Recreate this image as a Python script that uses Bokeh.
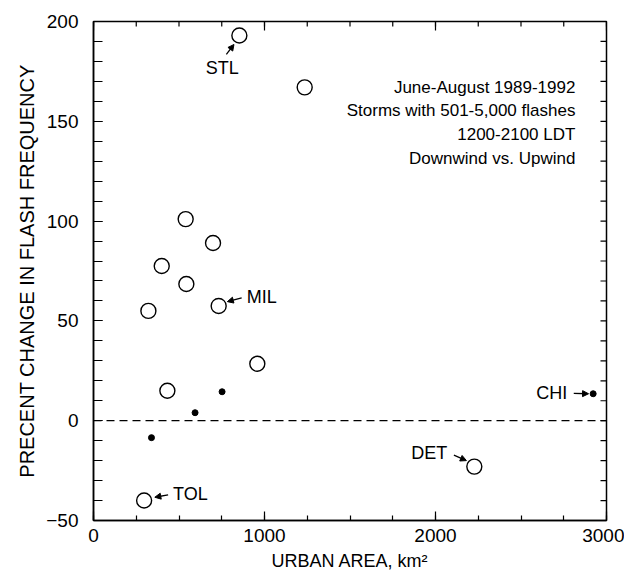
from bokeh.plotting import figure
from bokeh.models import LinearAxis, FixedTicker, Span, Range1d, Arrow, NormalHead, ColumnDataSource
from bokeh.embed import file_html
from bokeh.resources import INLINE
from bokeh.core.properties import value

# ---- data ----
open_x = [853, 1235, 539, 699, 399, 543, 321, 732, 958, 432, 296, 2227]
open_y = [193, 167, 101, 89, 77.5, 68.5, 55, 57.5, 28.5, 15, -40, -23]
filled_x = [752, 594, 339, 2922]
filled_y = [14.5, 4, -8.5, 13.5]

city_names = ["STL", "MIL", "TOL", "CHI", "DET"]
city_x = [853, 732, 296, 2922, 2227]
city_y = [193, 57.5, -40, 13.5, -23]

x_major = [0, 1000, 2000, 3000]
x_minor = list(range(0, 3001, 250))
y_major = [-50, 0, 50, 100, 150, 200]
y_minor = list(range(-50, 201, 10))

info_lines = ["June-August 1989-1992", "Storms with 501-5,000 flashes",
              "1200-2100 LDT", "Downwind vs. Upwind"]

# ---- layout ----
FW, FH = 513, 499
XMIN, XMAX, YMIN, YMAX = 0, 3000, -50, 200
sx = FW / (XMAX - XMIN)
sy = FH / (YMAX - YMIN)
FONT = "Liberation Sans"

p = figure(frame_width=FW, frame_height=FH, output_backend="svg", toolbar_location=None,
           x_range=Range1d(XMIN, XMAX), y_range=Range1d(YMIN, YMAX),
           x_axis_location=None, y_axis_location=None,
           min_border_left=93, min_border_right=18, min_border_top=21, min_border_bottom=55)
p.xgrid.visible = False
p.ygrid.visible = False
p.outline_line_color = "black"
p.outline_line_width = 1.5
p.background_fill_color = "white"
p.border_fill_color = "white"

xt = FixedTicker(ticks=x_major, minor_ticks=x_minor)
yt = FixedTicker(ticks=y_major, minor_ticks=y_minor)

def style(ax):
    ax.axis_line_width = 1.5
    ax.axis_line_color = "black"
    ax.major_tick_line_color = "black"
    ax.minor_tick_line_color = "black"
    ax.major_tick_line_width = 1.2
    ax.minor_tick_line_width = 1.2
    ax.major_tick_out = 0
    ax.minor_tick_out = 0
    ax.major_label_text_font = FONT
    ax.major_label_text_color = "black"
    ax.major_label_text_font_size = "19px"
    ax.axis_label_text_font = FONT
    ax.axis_label_text_font_style = "normal"
    ax.axis_label_text_color = "black"

bx = LinearAxis(ticker=xt, axis_label="URBAN AREA, km²")
style(bx)
bx.axis_label_text_font_size = "18px"
bx.major_tick_in = 9
bx.minor_tick_in = 5
bx.major_label_standoff = 8
bx.axis_label_standoff = 6
p.add_layout(bx, "below")

ly = LinearAxis(ticker=yt, axis_label="PRECENT CHANGE IN FLASH FREQUENCY")
style(ly)
ly.axis_label_text_font_size = "20px"
ly.major_tick_in = 9
ly.minor_tick_in = 9
ly.major_label_standoff = 15
ly.axis_label_standoff = 5
p.add_layout(ly, "left")

# mirrored inward ticks on top and right edges (from the same tick lists)
top_len_major, top_len_minor, right_len = 9, 5, 6
p.segment(x0=x_minor, y0=[YMAX] * len(x_minor), x1=x_minor,
          y1=[YMAX - top_len_minor / sy] * len(x_minor), line_color="black", line_width=1.2)
p.segment(x0=x_major, y0=[YMAX] * len(x_major), x1=x_major,
          y1=[YMAX - top_len_major / sy] * len(x_major), line_color="black", line_width=1.2)
p.segment(x0=[XMAX] * len(y_minor), y0=y_minor, x1=[XMAX - right_len / sx] * len(y_minor),
          y1=y_minor, line_color="black", line_width=1.2)

p.add_layout(Span(location=0, dimension="width", line_color="black",
                  line_dash="8 5", line_width=1.3))

p.scatter(open_x, open_y, size=15, fill_color="white", line_color="black", line_width=1.4)
p.scatter(filled_x, filled_y, size=6, fill_color="black", line_color="black")

# label placement (pixel offsets from the point, y downward)
text_off = {"STL": (-17, 33, "center"), "MIL": (28, -8.5, "left"), "TOL": (29, -7, "left"),
            "CHI": (-26, -0.5, "right"), "DET": (-27, -13.5, "right")}
arrow_off = {"STL": (-13, 19, -5.4, 9), "MIL": (23, -8, 8.7, -4.3), "TOL": (24, -5.7, 10.7, -3.3),
             "CHI": (-19.4, -0.3, -4.6, 0), "DET": (-20.4, -11.4, -7.9, -6)}

for name, cx, cy in zip(city_names, city_x, city_y):
    dx, dy, al = text_off[name]
    p.text(x=[cx + dx / sx], y=[cy - dy / sy], text=[name], text_align=al,
           text_baseline="middle", text_font=value(FONT), text_font_size="18px", text_color="black")
    x0, y0, x1, y1 = arrow_off[name]
    src = ColumnDataSource(dict(xs=[cx + x0 / sx], ys=[cy - y0 / sy],
                                xe=[cx + x1 / sx], ye=[cy - y1 / sy]))
    p.add_layout(Arrow(end=NormalHead(size=6, fill_color="black", line_color="black", line_width=1),
                       x_start="xs", y_start="ys", x_end="xe", y_end="ye", source=src,
                       line_color="black", line_width=1.3))

info_y = [167, 155.2, 143.4, 131.6]
p.text(x=[2818] * len(info_lines), y=info_y, text=info_lines, text_align="right",
       text_baseline="middle", text_font=value(FONT), text_font_size="17px", text_color="black")

open("out.html", "w").write(file_html(p, INLINE))
